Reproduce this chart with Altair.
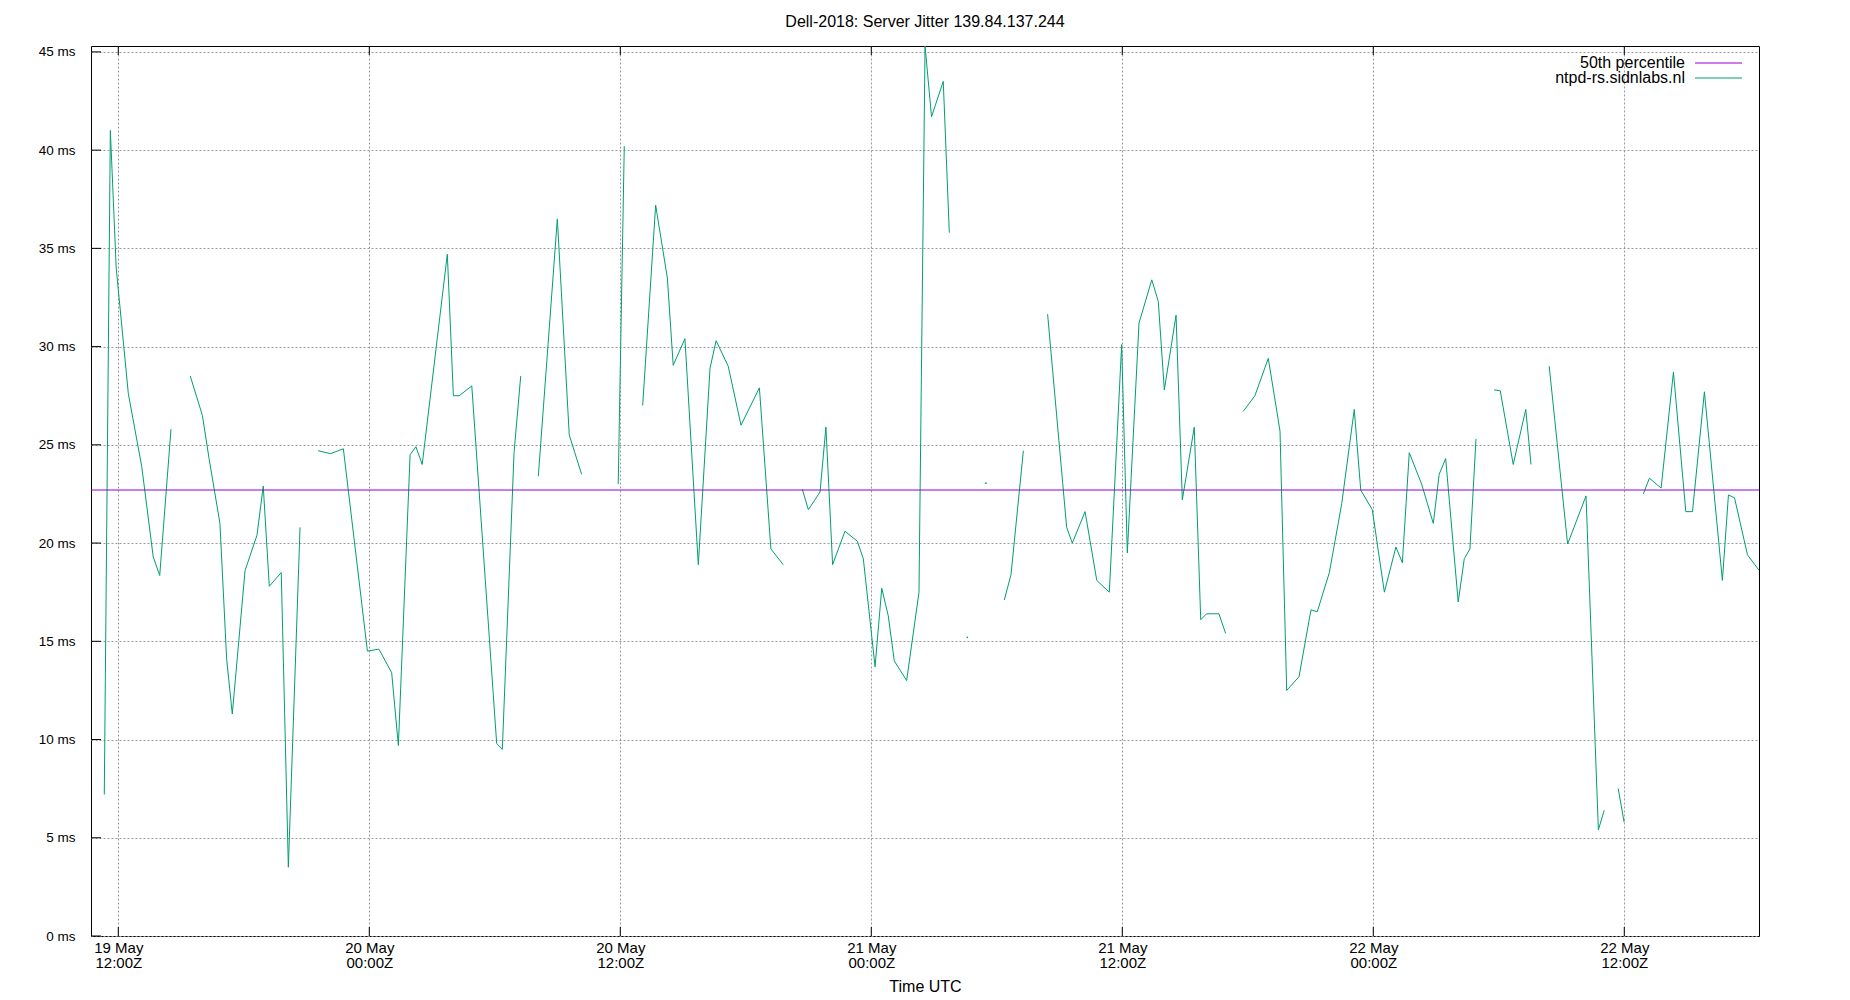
import altair as alt
import pandas as pd

TITLE = "Dell-2018: Server Jitter 139.84.137.244"
SERIES_LABEL = "ntpd-rs.sidnlabs.nl"
PCT_LABEL = "50th percentile"
PCT_VALUE = 22.7
X_TITLE = "Time UTC"
BASE = pd.Timestamp("2024-05-19 12:00", tz="UTC")

# hours after 19 May 12:00Z; None marks a gap in the series
hours = [
    -0.67, -0.38, -0.10, 0.48, 1.12, 1.67, 1.98, 2.52, None,
    3.44, 4.02, 4.34, 4.86, 5.18, 5.45, 6.06, 6.63, 6.93, 7.22, 7.79, 8.13, 8.69, None,
    9.55, 10.15, 10.76, 11.91, 12.46, 13.07, 13.39, 13.95, 14.23, 14.53, 15.73, 16.02,
    16.30, 16.90, 18.09, 18.36, 18.92, 19.24, None,
    20.08, 20.99, 21.56, 22.15, None,
    23.90, 24.19, None,
    25.07, 25.69, 26.25, 26.53, 27.09, 27.73, 28.29, 28.58, 29.16, 29.77, 30.65, 31.20, 31.79, None,
    32.70, 32.99, 33.55, 33.83, 34.15, 34.74, 35.33, 35.62, 36.18, 36.50, 36.81, 37.10, 37.69,
    38.28, 38.57, 38.88, 39.44, 39.73, None,
    40.59, None,
    41.48, None,
    42.36, 42.68, 43.27, None,
    44.43, 45.34, 45.61, 46.22, 46.78, 47.38, 47.97, 48.24, 48.80, 49.41, 49.72, 50.01, 50.57,
    50.87, 51.44, 51.75, 52.03, 52.62, 52.94, None,
    53.78, 54.34, 54.98, 55.54, 55.86, 56.45, 57.02, 57.32, 57.90, 58.49, 59.09, 59.40, 59.95,
    60.53, 61.08, 61.39, 61.72, 62.31, 62.87, 63.15, 63.46, 64.06, 64.35, 64.62, 64.91, None,
    65.77, 66.07, 66.69, 67.29, 67.54, None,
    68.41, 69.29, 70.17, 70.76, 71.04, None,
    71.71, 71.99, None,
    72.91, 73.20, 73.76, 74.35, 74.94, 75.26, 75.83, 76.69, 76.98, 77.27, 77.89, 78.45,
]

jitter_ms = [
    7.2, 41.0, 34.0, 27.6, 23.9, 19.3, 18.35, 25.8, None,
    28.5, 26.5, 24.3, 21.0, 14.1, 11.3, 18.6, 20.4, 22.9, 17.8, 18.5, 3.5, 20.8, None,
    24.7, 24.55, 24.8, 14.5, 14.6, 13.4, 9.7, 24.5, 24.9, 24.0, 34.7, 27.5,
    27.5, 28.0, 9.8, 9.5, 24.6, 28.5, None,
    23.4, 36.5, 25.5, 23.5, None,
    23.0, 40.2, None,
    27.0, 37.2, 33.5, 29.05, 30.4, 18.9, 28.9, 30.3, 29.0, 26.0, 27.9, 19.7, 18.9, None,
    22.75, 21.7, 22.6, 25.9, 18.9, 20.6, 20.1, 19.2, 13.7, 17.7, 16.3, 14.0, 13.0,
    17.5, 45.3, 41.7, 43.5, 35.8, None,
    15.2, None,
    23.05, None,
    17.1, 18.4, 24.7, None,
    31.65, 20.8, 20.0, 21.6, 18.1, 17.5, 30.1, 19.5, 31.2, 33.4, 32.3, 27.8, 31.6,
    22.2, 25.9, 16.1, 16.4, 16.4, 15.4, None,
    26.7, 27.5, 29.4, 25.7, 12.5, 13.2, 16.6, 16.5, 18.5, 22.0, 26.8, 22.7, 21.7,
    17.5, 19.8, 19.0, 24.6, 23.0, 21.0, 23.5, 24.3, 17.0, 19.2, 19.7, 25.3, None,
    27.8, 27.75, 24.0, 26.8, 24.0, None,
    29.0, 19.95, 22.4, 5.4, 6.4, None,
    7.5, 5.8, None,
    22.5, 23.3, 22.8, 28.7, 21.6, 21.6, 27.7, 18.1, 22.45, 22.3, 19.4, 18.6,
]

y_ticks = [0, 5, 10, 15, 20, 25, 30, 35, 40, 45]
x_tick_hours = [0, 12, 24, 36, 48, 60, 72]
x_domain_hours = [-1.305, 78.44]
y_domain = [0, 45.3]

GREEN = "#009e73"
PURPLE = "#9400d3"
FONT = "Liberation Sans"
W, H = 1668, 890


def iso(h):
    return (BASE + pd.Timedelta(hours=h)).strftime("%Y-%m-%dT%H:%M:%SZ")


def ms(h):
    return int((BASE + pd.Timedelta(hours=h)).timestamp() * 1000)


rows = []
seg = 0
for h, v in zip(hours, jitter_ms):
    if h is None:
        seg += 1
        continue
    rows.append({"t": iso(h), "ms": v, "seg": seg})
df = pd.DataFrame(rows)
df["n"] = df.groupby("seg")["seg"].transform("size")
singles = df[df["n"] == 1]

ticks_df = pd.DataFrame({"t": [iso(h) for h in x_tick_hours]})
yticks_df = pd.DataFrame({"v": y_ticks})

x_scale = alt.Scale(type="utc", domain=[ms(x_domain_hours[0]), ms(x_domain_hours[1])])
y_scale = alt.Scale(domain=y_domain, nice=False, zero=False)

x_axis = alt.Axis(
    values=[ms(h) for h in x_tick_hours],
    labelExpr="[utcFormat(datum.value, '%d %b'), utcFormat(datum.value, '%H:%MZ')]",
    labelFontSize=15,
    labelLineHeight=15,
    labelBaseline="top",
    labelPadding=4,
    labelFont=FONT,
    labelColor="black",
    ticks=False,
    domain=False,
    grid=True,
    title=X_TITLE,
    titleFont=FONT,
    titleFontSize=16,
    titleFontWeight="normal",
    titleColor="black",
    titlePadding=8,
)
y_axis = alt.Axis(
    values=y_ticks,
    labelExpr="datum.value + ' ms'",
    labelFontSize=13.5,
    labelFont=FONT,
    labelColor="black",
    labelPadding=16,
    ticks=False,
    domain=False,
    grid=True,
    title=None,
)

line = alt.Chart(df).mark_line(color=GREEN, strokeWidth=1, clip=True).encode(
    x=alt.X("t:T", scale=x_scale, axis=x_axis),
    y=alt.Y("ms:Q", scale=y_scale, axis=y_axis),
    detail="seg:N",
)

dots = alt.Chart(singles).mark_point(color=GREEN, filled=True, size=3, opacity=1).encode(
    x="t:T", y="ms:Q"
)

pct = alt.Chart(pd.DataFrame({"p": [PCT_VALUE]})).mark_rule(color=PURPLE, strokeWidth=1).encode(
    y="p:Q"
)

top_ticks = alt.Chart(ticks_df).mark_rule(color="black", strokeWidth=1).encode(
    x="t:T", y=alt.value(0), y2=alt.value(9)
)
bottom_ticks = alt.Chart(ticks_df).mark_rule(color="black", strokeWidth=1).encode(
    x="t:T", y=alt.value(H), y2=alt.value(H - 9)
)
left_ticks = alt.Chart(yticks_df).mark_rule(color="black", strokeWidth=1).encode(
    y="v:Q", x=alt.value(0), x2=alt.value(10)
)

legend_rows = [(PCT_LABEL, PURPLE, 17), (SERIES_LABEL, GREEN, 32)]
legend_layers = []
for label, color, ypix in legend_rows:
    ld = pd.DataFrame({"label": [label]})
    legend_layers.append(
        alt.Chart(ld).mark_text(align="right", baseline="middle", font=FONT, fontSize=16, color="black").encode(
            text="label:N", x=alt.value(1594), y=alt.value(ypix)
        )
    )
    legend_layers.append(
        alt.Chart(ld).mark_rule(color=color, strokeWidth=1).encode(
            x=alt.value(1604), x2=alt.value(1651), y=alt.value(ypix)
        )
    )

chart = alt.layer(line, dots, pct, top_ticks, bottom_ticks, left_ticks, *legend_layers).properties(
    width=W,
    height=H,
    title=alt.TitleParams(
        TITLE, font=FONT, fontSize=16, fontWeight="normal", anchor="middle",
        baseline="alphabetic", offset=2, color="black", frame="group",
    ),
    autosize=alt.AutoSizeParams(type="none"),
    padding={"left": 83, "top": 38, "right": 20, "bottom": 62},
).configure_view(stroke="black", strokeWidth=1).configure_axis(
    gridColor="#999999", gridDash=[2, 2], gridWidth=1
)

chart.save("out.html", embed_options={"renderer": "svg", "actions": False})
